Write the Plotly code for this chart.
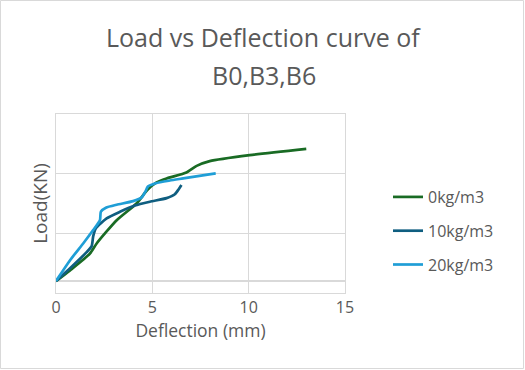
import plotly.graph_objects as go

# Data
x_0kg = [0, 0.73, 1.76, 2.11, 3.15, 4.18, 4.75, 5.2, 5.74, 6.77, 7.3, 7.98, 10.05, 12.99]
y_0kg = [0, 3.6, 9.2, 12.6, 20.4, 26.0, 30.6, 33.0, 34.4, 36.4, 38.6, 40.2, 42.2, 44.3]

x_10kg = [0, 0.73, 1.59, 1.85, 1.93, 2.07, 2.63, 3.32, 4.09, 4.87, 5.74, 6.17, 6.37, 6.51]
y_10kg = [0, 4.3, 9.7, 11.7, 15.0, 17.7, 21.0, 23.2, 25.3, 26.6, 27.8, 29.1, 30.8, 32.2]

x_20kg = [0, 0.73, 1.41, 1.93, 2.28, 2.33, 2.59, 3.15, 4.0, 4.46, 4.64, 4.77, 5.18, 5.91, 6.6, 8.29]
y_20kg = [0, 7.0, 12.6, 17.1, 20.4, 23.3, 24.6, 25.6, 26.8, 28.1, 30.0, 31.7, 32.8, 33.7, 34.4, 36.1]

series_names = ["0kg/m3", "10kg/m3", "20kg/m3"]
colors = ["#196B24", "#0F5E80", "#1F9ED6"]
title_lines = ["Load vs Deflection curve of", "B0,B3,B6"]

W, H = 525, 370
ml, mr, mt, mb = 56, 180, 114, 77
pw = W - ml - mr
ph = H - mt - mb


def px_x(p):
    return (p - ml) / pw


def px_y(p):
    return (H - mb - p) / ph


fig = go.Figure()
for i, (xs, ys, name, c) in enumerate(zip([x_0kg, x_10kg, x_20kg], [y_0kg, y_10kg, y_20kg], series_names, colors)):
    fig.add_trace(go.Scatter(x=xs, y=ys, mode="lines", name=name, legendgroup=f"g{i}",
                             line=dict(color=c, width=2.7, shape="spline", smoothing=0.6)))

grid = "#D9D9D9"
txt = "#595959"
FONT = "Open Sans"
fig.update_layout(
    width=W, height=H,
    margin=dict(l=ml, r=mr, t=mt, b=mb),
    paper_bgcolor="white", plot_bgcolor="white",
    font=dict(family=FONT, color=txt, size=13),
    xaxis=dict(range=[0, 15], dtick=5, showgrid=True, gridcolor=grid, gridwidth=1.3,
               zeroline=False, showline=True, linecolor=grid, linewidth=1.3, mirror=True,
               ticks="", tickfont=dict(size=16, color=txt),
               title=dict(text="Deflection (mm)", font=dict(size=17.5, color=txt), standoff=6)),
    yaxis=dict(range=[-4, 56], tick0=-4, dtick=20, showgrid=True, gridcolor=grid, gridwidth=1.3,
               zeroline=True, zerolinecolor=grid, zerolinewidth=1.6,
               showline=True, linecolor=grid, linewidth=1.3, mirror=True,
               showticklabels=False, ticks="",
               title=dict(text="Load(KN)", font=dict(size=19, color=txt), standoff=2)),
    legend=dict(x=px_x(388), xanchor="left", y=px_y(180), yanchor="top",
                tracegroupgap=10, font=dict(size=16, color=txt), bgcolor="rgba(0,0,0,0)"),
    showlegend=True,
)

# title as two centred lines
for line, yc in zip(title_lines, [37, 75]):
    fig.add_annotation(text=line, xref="paper", yref="paper", x=px_x(W / 2 + 1), y=px_y(yc),
                       xanchor="center", yanchor="middle", showarrow=False,
                       font=dict(size=25, color=txt, family=FONT))

# outer chart border
fig.add_shape(type="rect", xref="paper", yref="paper",
              x0=px_x(0.5), x1=px_x(W - 1.5), y0=px_y(H - 1.5), y1=px_y(0.5),
              line=dict(color="#D9D9D9", width=1), layer="below")

fig.write_html("out.html", config={"displayModeBar": False},
               post_script="document.body.style.margin='0';document.body.style.overflow='hidden';")
